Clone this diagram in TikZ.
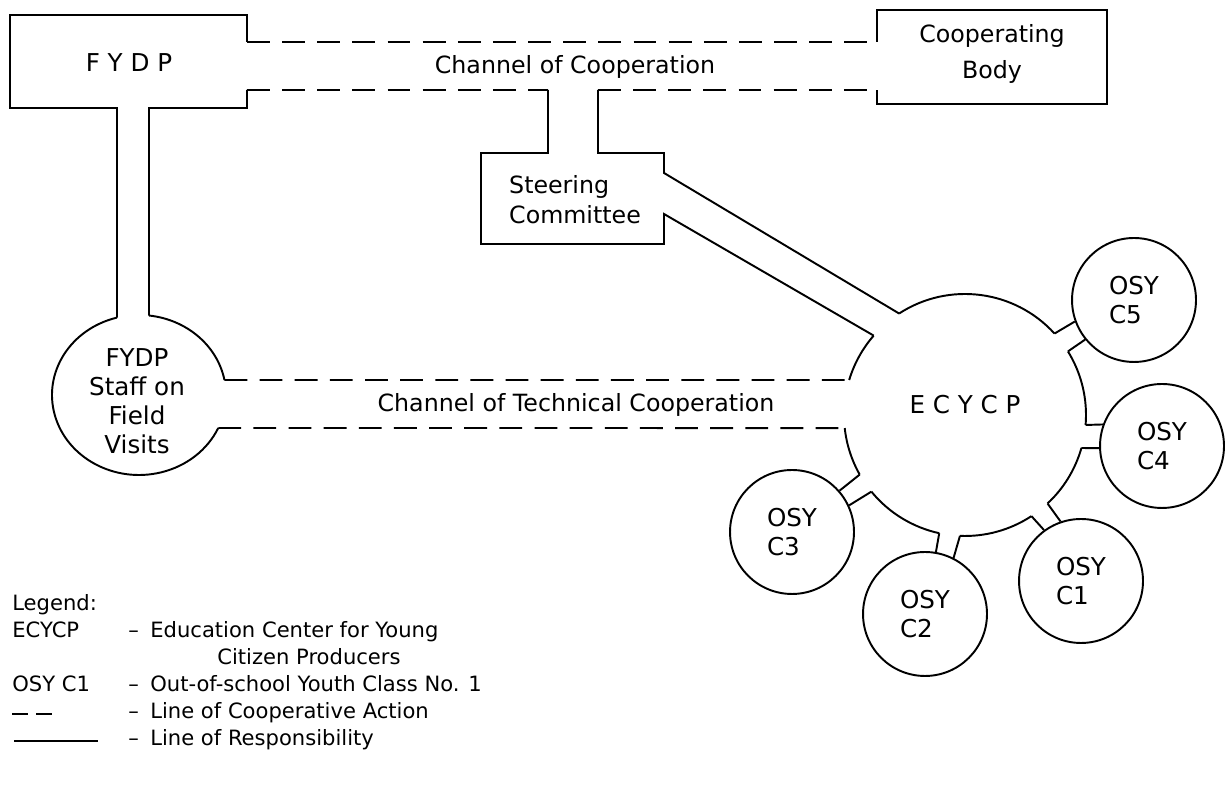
\documentclass[tikz,border=0pt]{standalone}
\usepackage{fontspec}
\setmainfont{DejaVu Sans}
\usetikzlibrary{calc}
\tikzset{
  resp/.style={line width=1.1pt},
  coop/.style={line width=1.1pt, dash pattern=on 13pt off 7pt},
  osycircle/.style={circle, draw, line width=1.1pt, fill=white, minimum size=2.48cm, inner sep=0pt, align=left, font=\fontsize{14}{17}\selectfont},
  boxtext/.style={font=\fontsize{13.5}{17}\selectfont},
  legendtext/.style={anchor=base west, inner sep=0pt, font=\fontsize{12}{14}\selectfont}
}

\begin{document}
\begin{tikzpicture}[x=0.02cm, y=0.02cm]
  \useasboundingbox (0,0) rectangle (1226,786);

  % centres of the two big round shapes
  \coordinate (fs) at (139,391);
  \coordinate (ec) at (965,371);

  % FYDP box and its stem
  \draw[resp] (247,744) -- (247,771) -- (10,771) -- (10,678) -- (117,678) -- ($(fs)+(104.65:87 and 80)$);
  \draw[resp] ($(fs)+(83.4:87 and 80)$) -- (149,678) -- (247,678) -- (247,696);
  \node[font=\fontsize{14}{17}\selectfont] (fydp) at (129,723) {F Y D P};

  % channel of cooperation
  \draw[coop] (247,744) -- (877,744);
  \draw[coop] (247,696) -- (548,696);
  \draw[coop] (598,696) -- (877,696);
  \node[boxtext] (chcoop) at (575,719) {Channel of Cooperation};

  % cooperating body
  \draw[resp] (877,744) -- (877,776) -- (1107,776) -- (1107,682) -- (877,682) -- (877,696);
  \node[boxtext, align=center] (body) at (992,732) {Cooperating\\[4pt]Body};

  % steering committee
  \draw[resp] (548,696) -- (548,633) -- (481,633) -- (481,542) -- (664,542) -- (664,572) -- ($(ec)+(139:121)$);
  \draw[resp] (598,696) -- (598,633) -- (664,633) -- (664,613) -- ($(ec)+(123:121)$);
  \node[boxtext, align=left, anchor=west] (steer) at (503,586) {Steering\\Committee};

  % FYDP staff on field visits
  \draw[resp] ($(fs)+(10.81:87 and 80)$) arc[start angle=10.81, end angle=83.4, x radius=87, y radius=80];
  \draw[resp] ($(fs)+(104.65:87 and 80)$) arc[start angle=104.65, end angle=335.64, x radius=87, y radius=80];
  \node[align=center, font=\fontsize{14}{16.5}\selectfont] (staff) at (137,385) {FYDP\\Staff on\\Field\\Visits};

  % channel of technical cooperation
  \draw[coop] ($(fs)+(10.81:87 and 80)$) -- ($(ec)+(163.2:121)$);
  \draw[coop] ($(fs)+(-24.36:87 and 80)$) -- ($(ec)+(186.2:121)$);
  \node[boxtext] (chtech) at (576,381) {Channel of Technical Cooperation};

  % ECYCP, left open where the links come in
  \foreach \s/\e in {-173.8/-150.5, -140.7/-102.3, -92.4/-56.7, -47/-15.83, -4.74/31.7, 42.3/123, 139/163.2}
    \draw[resp] ($(ec)+(\s:121)$) arc[start angle=\s, end angle=\e, radius=121];
  \node[font=\fontsize{14}{17}\selectfont] (ecycp) at (965,381) {E C Y C P};

  % out-of-school youth classes
  \node[osycircle] (c5) at (1134,486) {OSY\\C5};
  \node[osycircle] (c4) at (1162,340) {OSY\\C4};
  \node[osycircle] (c1) at (1081,205) {OSY\\C1};
  \node[osycircle] (c2) at (925,172) {OSY\\C2};
  \node[osycircle] (c3) at (792,254) {OSY\\C3};

  % links from ECYCP to the classes
  \foreach \n/\sa/\ea/\sb/\eb in {5/42.3/200/31.7/219, 4/-4.74/160/-15.83/182, 1/-47/109/-56.7/126, 2/-92.4/63/-102.3/80, 3/-140.7/25/-150.5/41}
    \draw[resp] ($(ec)+(\sa:121)$) -- (c\n.\ea) ($(ec)+(\sb:121)$) -- (c\n.\eb);

  % legend
  \node[legendtext] (leg) at (12,175) {Legend:};
  \node[legendtext] (legec) at (12,148) {ECYCP};
  \node[legendtext] (legecd) at (128,148) {–};
  \node[legendtext] (legect) at (150,148) {Education Center for Young};
  \node[legendtext] (legcp) at (217,121) {Citizen Producers};
  \node[legendtext] (legosy) at (12,94) {OSY C1};
  \node[legendtext] (legosyd) at (128,94) {–};
  \node[legendtext] (legosyt) at (150,94) {Out-of-school Youth Class No. 1};
  \coordinate (dsa) at (12,72);
  \coordinate (dsb) at (28,72);
  \coordinate (dsc) at (36,72);
  \coordinate (dsd) at (52,72);
  \draw[resp] (dsa) -- (dsb) (dsc) -- (dsd);
  \node[legendtext] (legcod) at (128,67) {–};
  \node[legendtext] (legcot) at (150,67) {Line of Cooperative Action};
  \coordinate (lra) at (14,45);
  \coordinate (lrb) at (98,45);
  \draw[resp] (lra) -- (lrb);
  \node[legendtext] (legrsd) at (128,40) {–};
  \node[legendtext] (legrst) at (150,40) {Line of Responsibility};
\end{tikzpicture}
\end{document}
